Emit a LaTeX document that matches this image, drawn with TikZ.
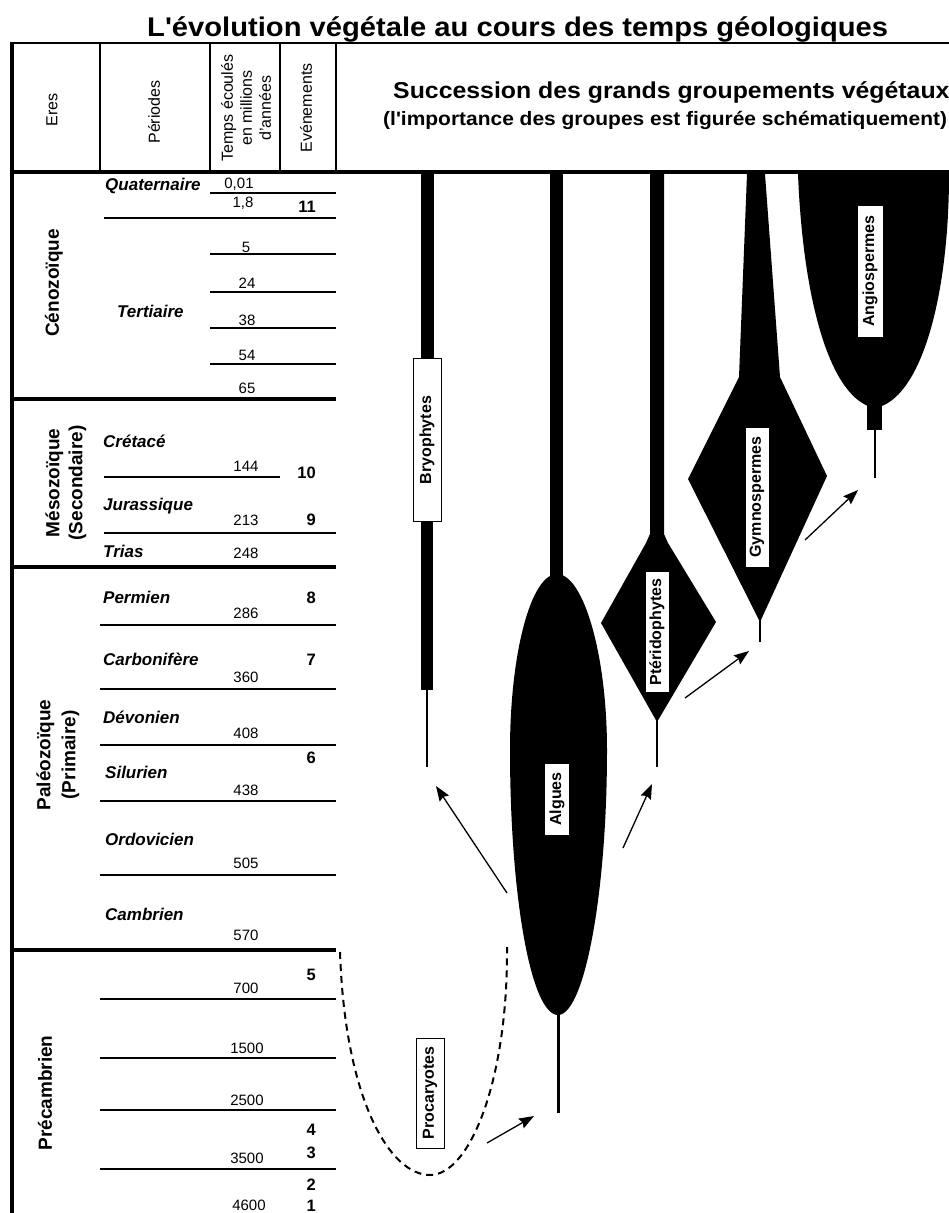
\documentclass[tikz,border=0pt]{standalone}
\usepackage{fontspec}
\setmainfont{Liberation Sans}
\newfontfamily\widesans{Liberation Sans}[FakeStretch=1.08]
\usetikzlibrary{arrows.meta}
\begin{document}
\begin{tikzpicture}[x=1pt,y=-1pt,
  titletext/.style={font=\widesans\fontsize{27}{30}\selectfont\bfseries, inner sep=0pt},
  headbig/.style={font=\widesans\fontsize{23}{26}\selectfont\bfseries, inner sep=0pt},
  headsmall/.style={font=\widesans\fontsize{19.4}{22}\selectfont\bfseries, inner sep=0pt},
  colhead/.style={rotate=90, align=center, font=\fontsize{16}{19}\selectfont, inner sep=0pt},
  eralabel/.style={rotate=90, align=center, font=\fontsize{19}{22}\selectfont\bfseries, inner sep=0pt},
  period/.style={anchor=base west, font=\fontsize{17}{19}\selectfont\bfseries\itshape, inner sep=0pt},
  age/.style={anchor=base, font=\fontsize{15}{18}\selectfont, inner sep=0pt},
  event/.style={anchor=base east, font=\fontsize{16.5}{18}\selectfont\bfseries, inner sep=0pt},
  frame/.style={line width=2.5pt},
  erarule/.style={line width=3.5pt},
  agerule/.style={line width=1.4pt},
  trunk/.style={fill=black},
  twig/.style={line width=2.5pt},
  grouplabel/.style={rotate=90, fill=white, draw=black, line width=0.8pt,
    font=\fontsize{16}{18}\selectfont\bfseries, inner sep=0pt, minimum height=26pt},
  evo/.style={-{Stealth[length=15pt,width=11pt,inset=2pt]}, line width=1.3pt},
  procpath/.style={dash pattern=on 7pt off 5pt, line width=2pt}
]
\useasboundingbox (0,0) rectangle (949,1213);
\fill[white] (0,0) rectangle (949,1213);

% ---------- title ----------
\node[titletext, anchor=base west] (title) at (147,36) {L'évolution végétale au cours des temps géologiques};

% ---------- table frame and header ----------
\draw[frame] (12,43) -- (949,43);
\draw[line width=4pt] (12,41.75) -- (12,1213);
\foreach \cx in {100,210,280,336} \draw[line width=2pt] (\cx,43) -- (\cx,172);
\draw[line width=4pt] (10,172) -- (949,172);

\node[colhead] (hEres) at (52,110) {Eres};
\node[colhead] (hPer) at (154,112) {Périodes};
\node[colhead] (hTemps) at (246,108) {Temps écoulés\\en millions\\d'années};
\node[colhead] (hEvt) at (306,108) {Evénements};

\node[headbig, anchor=base west] (succ) at (393,98) {Succession des grands groupements végétaux};
\node[headsmall, anchor=base west] (succsub) at (383,125) {(l'importance des groupes est figurée schématiquement)};

% ---------- era boundaries ----------
\draw[erarule] (12,399) -- (336,399);
\draw[erarule] (12,567) -- (336,567);
\draw[erarule] (12,950) -- (336,950);

% ---------- age boundaries ----------
\draw[agerule] (210,193) -- (336,193);
\draw[line width=2.5pt] (104,218) -- (336,218);
\foreach \ry in {254,292,328,364} \draw[agerule] (210,\ry) -- (336,\ry);
\draw[agerule] (104,477) -- (280,477);
\draw[agerule] (104,533) -- (336,533);
\foreach \ry in {625,689,745,801,875,999,1058,1110,1169} \draw[agerule] (100,\ry) -- (336,\ry);

% ---------- eras ----------
\node[eralabel] (eCeno) at (54,283) {Cénozoïque};
\node[eralabel, font=\fontsize{19}{23}\selectfont\bfseries] (eMeso) at (66,483) {Mésozoïque\\(Secondaire)};
\node[eralabel, font=\fontsize{19}{25}\selectfont\bfseries] (ePaleo) at (58,755) {Paléozoïque\\(Primaire)};
\node[eralabel] (ePreC) at (45,1093) {Précambrien};

% ---------- periods ----------
\node[period] (pQuat) at (105,190) {Quaternaire};
\node[period] (pTert) at (117,317) {Tertiaire};
\node[period] (pCret) at (103,447) {Crétacé};
\node[period] (pJura) at (103,510) {Jurassique};
\node[period] (pTrias) at (103,557) {Trias};
\node[period] (pPerm) at (103,603) {Permien};
\node[period] (pCarb) at (103,665) {Carbonifère};
\node[period] (pDevo) at (103,723) {Dévonien};
\node[period] (pSilu) at (105,778) {Silurien};
\node[period] (pOrdo) at (105,845) {Ordovicien};
\node[period] (pCamb) at (105,920) {Cambrien};

% ---------- ages (millions of years) ----------
\node[age] (a001) at (239,188) {0,01};
\node[age] (a18) at (243,207) {1,8};
\node[age] (a5) at (246,252) {5};
\node[age] (a24) at (247,288) {24};
\node[age] (a38) at (247,325) {38};
\node[age] (a54) at (247,360) {54};
\node[age] (a65) at (247,393) {65};
\node[age] (a144) at (246,471) {144};
\node[age] (a213) at (246,525) {213};
\node[age] (a248) at (246,558) {248};
\node[age] (a286) at (246,618) {286};
\node[age] (a360) at (246,682) {360};
\node[age] (a408) at (246,738) {408};
\node[age] (a438) at (246,795) {438};
\node[age] (a505) at (246,868) {505};
\node[age] (a570) at (246,940) {570};
\node[age] (a700) at (246,993) {700};
\node[age] (a1500) at (247,1053) {1500};
\node[age] (a2500) at (247,1105) {2500};
\node[age] (a3500) at (247,1163) {3500};
\node[age] (a4600) at (249,1210) {4600};

% ---------- events ----------
\node[event] (ev11) at (316,212) {11};
\node[event] (ev10) at (316,478) {10};
\node[event] (ev9) at (316,525) {9};
\node[event] (ev8) at (316,603) {8};
\node[event] (ev7) at (316,665) {7};
\node[event] (ev6) at (316,763) {6};
\node[event] (ev5) at (316,980) {5};
\node[event] (ev4) at (316,1135) {4};
\node[event] (ev3) at (316,1158) {3};
\node[event] (ev2) at (316,1190) {2};
\node[event] (ev1) at (316,1211) {1};

% ---------- Bryophytes ----------
\fill[trunk] (420.5,174) rectangle (433.5,360);
\fill[trunk] (421,519) rectangle (433,690);
\draw[twig] (427,690) -- (427,767);
\node[grouplabel, minimum width=163pt, minimum height=28pt] (bryo) at (427,440) {Bryophytes};

% ---------- Algues ----------
\fill[trunk] (550,174) rectangle (563,585);
\fill[trunk] (557,574)
  .. controls (531,574) and (510,653) .. (510,750)
  .. controls (510,896) and (531,1015) .. (558,1015)
  .. controls (584,1015) and (607,896) .. (607,750)
  .. controls (607,653) and (583,574) .. (557,574) -- cycle;
\draw[line width=3pt] (558,1012) -- (558,1113);
\node[grouplabel, minimum width=72pt, minimum height=25pt] (alg) at (557,799) {Algues};

% ---------- Ptéridophytes ----------
\fill[trunk] (650,174) -- (650,534) -- (646,543) -- (601,623) -- (657,722)
  -- (716,622) -- (668,543) -- (664,534) -- (664,174) -- cycle;
\draw[twig] (657,718) -- (657,767);
\node[grouplabel, minimum width=121pt, minimum height=24pt] (pter) at (657,632) {Ptéridophytes};

% ---------- Gymnospermes ----------
\fill[trunk] (747,174) -- (765,174) -- (780,377) -- (827,476) -- (760,622)
  -- (688,479) -- (739,377) -- cycle;
\draw[twig] (760,618) -- (760,642);
\node[grouplabel, minimum width=140pt, minimum height=24pt] (gymno) at (757,497) {Gymnospermes};

% ---------- Angiospermes ----------
\fill[trunk] (798,174) .. controls (803,300) and (830,400) .. (875,408)
  .. controls (920,400) and (949,300) .. (949,174) -- cycle;
\fill[trunk] (867,403) rectangle (882,430);
\draw[twig] (875,428) -- (875,478);
\node[grouplabel, minimum width=132pt, minimum height=26pt] (angio) at (870,271) {Angiospermes};

% ---------- Procaryotes ----------
\draw[procpath] (340,952) .. controls (345,1100) and (390,1175) .. (430,1175)
  .. controls (470,1175) and (508,1080) .. (507,947);
\node[grouplabel, minimum width=110pt, minimum height=28pt] (proc) at (430,1093) {Procaryotes};

% ---------- filiation arrows ----------
\coordinate (algFromL) at (507,893);
\coordinate (bryoFoot) at (436,786);
\coordinate (algFromR) at (623,848);
\coordinate (pterFoot) at (652,784);
\coordinate (pterFrom) at (685,698);
\coordinate (gymnoFoot) at (749,651);
\coordinate (gymnoFrom) at (805,540);
\coordinate (angioFoot) at (858,490);
\coordinate (procFrom) at (487,1143);
\coordinate (algFoot) at (534,1116);
\draw[evo] (algFromL) -- (bryoFoot);
\draw[evo] (algFromR) -- (pterFoot);
\draw[evo] (pterFrom) -- (gymnoFoot);
\draw[evo] (gymnoFrom) -- (angioFoot);
\draw[evo] (procFrom) -- (algFoot);
\end{tikzpicture}
\end{document}
